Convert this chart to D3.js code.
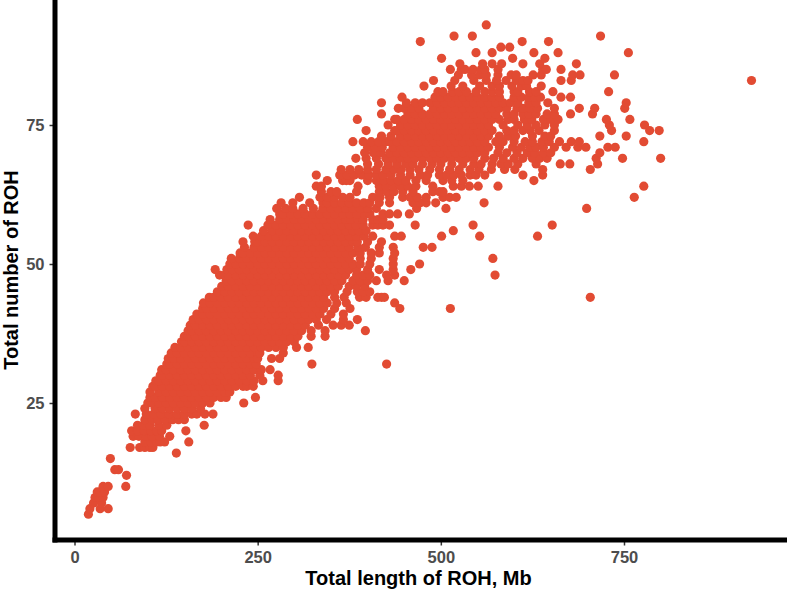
<!DOCTYPE html>
<html>
<head>
<meta charset="utf-8">
<script src="https://cdn.jsdelivr.net/npm/d3@7"></script>
<style>
  html, body { margin: 0; padding: 0; background: #fff; }
  svg { display: block; }
  text { font-family: "Liberation Sans", Arial, sans-serif; font-weight: bold; }
</style>
</head>
<body>
<div id="chart"></div>
<script>
// total length of ROH (Mb), one list per total number of ROH
const n5 = [19];
const n6 = [21,35,46];
const n7 = [26,37];
const n8 = [28,33,39];
const n9 = [31,35,41];
const n10 = [39,46,70];
const n12 = [71];
const n13 = [55,60];
const n15 = [49];
const n16 = [139];
const n17 = [76,89,96,103,107];
const n18 = [96,104,112,117,123,156];
const n19 = [80,88,98,106,116,130];
const n20 = [78,86,95,104,112,119,152];
const n21 = [86,94,103,115,126,177];
const n22 = [96,106,114,124,134,142,150];
const n23 = [83,98,108,118,129,140,150,160,167,178,189];
const n24 = [96,110,120,130,140,150,160,172];
const n25 = [100,105,115,125,135,145,155,165,175,185,231];
const n26 = [103,110,120,130,140,150,160,170,180,190,200,207,247];
const n27 = [103,115,125,135,145,155,165,175,185,195,205,212];
const n28 = [107,110,120,130,140,150,160,170,180,190,200,210,220,230,235,244];
const n29 = [111,115,125,135,145,155,165,175,185,195,205,215,225,235,245,257,278];
const n30 = [117,120,130,140,150,160,170,180,190,200,210,220,230,240,253,278];
const n31 = [119,125,135,145,155,165,175,185,195,205,215,225,235,245,255,267];
const n32 = [126,130,140,150,160,170,180,190,200,210,220,230,240,248,324,426];
const n33 = [128,135,145,155,165,175,185,195,205,215,225,235,245,250,269,280];
const n34 = [132,140,150,160,170,180,190,200,210,220,230,240,250,253,285];
const n35 = [137,145,155,165,175,185,195,205,215,225,235,245,255,265,275,285,303,319];
const n36 = [146,150,160,170,180,190,200,210,220,230,240,250,260,270,280,290,300];
const n37 = [150,155,165,175,185,195,205,215,225,235,245,255,265,275,285,295,305,323,342];
const n38 = [155,160,170,180,190,200,210,220,230,240,250,260,270,280,290,300,310,323,342,397];
const n39 = [158,165,175,185,195,205,215,225,235,245,255,265,275,285,295,305,315,333,353,364,375];
const n40 = [162,170,180,190,200,210,220,230,240,250,260,270,280,290,300,310,320,330,344,367,386];
const n41 = [167,175,185,195,205,215,225,235,245,255,265,275,285,295,305,315,325,335,350,367];
const n42 = [175,180,190,200,210,220,230,240,250,260,270,280,290,300,310,320,330,340,355,376,444,513];
const n43 = [176,185,195,205,215,225,235,245,255,265,275,285,295,305,315,325,335,345,358,371,437];
const n44 = [184,190,200,210,220,230,240,250,260,270,280,290,300,310,320,330,340,355,368,389,398,414,419,423,704];
const n45 = [195,205,215,225,235,245,255,265,275,285,295,305,315,325,335,345,355,372,386,394,403];
const n46 = [201,210,220,230,240,250,260,270,280,290,300,310,320,330,340,350,360,375,385,396];
const n47 = [207,215,225,235,245,255,265,275,285,295,305,315,325,335,345,355,365,380,390,400,412,428,450];
const n48 = [198,205,210,220,230,240,250,260,270,280,290,300,310,320,330,340,350,360,370,385,394,403,426,437,574];
const n49 = [192,208,215,225,235,245,255,265,275,285,295,305,315,325,335,345,355,365,375,385,400,416,435,459];
const n50 = [212,220,230,240,250,260,270,280,290,300,310,320,330,340,350,360,370,380,390,403,435,471];
const n51 = [214,225,235,245,255,265,275,285,295,305,315,325,335,345,355,365,375,390,405,435,571];
const n52 = [226,230,240,250,260,270,280,290,300,310,320,330,340,350,360,370,380,390,405,416,437];
const n53 = [232,245,255,265,275,285,295,305,315,325,335,345,355,365,375,387,397,416,435,476,488];
const n54 = [230,246,250,260,270,280,290,300,310,320,330,340,350,360,370,380,386,400,419];
const n55 = [244,255,265,275,285,295,305,315,325,335,345,355,365,375,385,395,407,437,446,501,553,632];
const n56 = [258,270,280,290,300,310,320,330,340,350,360,370,380,388,398,517];
const n57 = [237,264,275,285,295,305,315,325,335,345,355,365,375,384,394,407,414,421,430,465,544,652];
const n58 = [267,280,290,300,310,320,330,340,350,360,370,377,387,394,407,414,421];
const n59 = [280,285,295,305,315,325,335,345,355,366,376,386,396,403,421,430,441,457];
const n60 = [276,288,298,312,326,339,350,360,370,380,390,400,412,467,507,699];
const n61 = [282,298,321,339,345,355,365,375,385,395,403,416,430,462,472,480,493,559];
const n62 = [307,335,345,355,366,376,407,417,430,448,458,468,480,503,512,521,764];
const n63 = [337,350,358,385,416,426,436,448,462,489,498,503];
const n64 = [330,337,387,416,425,435,445,455,466,489,517,528,539,551,578,777];
const n65 = [345,366,371,376,400,412,422,432,442,452,466,480,503,515,530,627];
const n66 = [330,362,372,382,392,402,412,421,432,445,458,472,482,498,508,518,528,540,548,560,612,639];
const n67 = [364,376,388,400,412,425,436,446,458,470,485,498,512,525,540,552,569,587,601,639,704];
const n68 = [400,415,428,440,452,462,475,488,500,515,530,545,555,570,582,592,605,630,663,676,714];
const n69 = [384,398,412,425,435,445,455,465,475,485,495,505,515,525,535,545,560,572,585,600,612,625,635,645,712,748,800];
const n70 = [396,408,418,430,440,450,460,470,480,490,500,510,520,530,540,550,560,578,590,604,618,628,640,650,717];
const n71 = [400,410,420,435,445,455,465,475,485,495,505,515,525,535,545,555,565,580,598,610,622,630,640,655,671,687,698,728,738];
const n72 = [380,394,405,415,425,430,440,450,460,470,480,490,500,510,520,530,540,550,560,575,585,600,615,625,638,648,662,678,689,777];
const n73 = [419,432,445,455,465,475,485,495,505,515,525,535,545,555,565,580,592,602,625,642,650,717,753];
const n74 = [398,437,440,450,460,470,480,490,500,510,520,530,540,550,560,570,590,600,612,622,634,655,733,785,798];
const n75 = [428,445,455,465,475,485,495,505,515,525,535,545,555,565,585,605,618,630,642,655,730,778];
const n76 = [386,437,440,450,460,470,480,490,500,510,520,530,540,550,560,570,580,592,600,614,624,640,650,660,726,758];
const n77 = [419,455,465,475,485,495,505,515,525,535,545,555,565,575,590,600,612,620,630,645,655,677,707];
const n78 = [442,450,460,470,490,500,510,520,530,540,550,560,570,580,590,604,612,622,632,655,689,710,751];
const n79 = [419,453,465,475,485,495,505,515,525,535,545,555,565,575,585,595,605,620,630,646,753];
const n80 = [447,492,500,510,520,530,540,550,560,570,580,600,610,620,628,636,664,677];
const n81 = [496,503,516,525,535,548,560,570,580,600,605,621,630,653,729];
const n82 = [477,514,530,553,570,580,597,610,617,637];
const n83 = [490,519,545,562,576,589,603,612,619,664,678,924];
const n84 = [524,542,553,562,578,596,603,626,637,680,690,737];
const n85 = [513,528,533,544,555,560,578,639,644,664];
const n86 = [526,557,570,583,612,635,685];
const n87 = [501,598,642];
const n88 = [548,570,627,660,756];
const n89 = [582,594];
const n90 = [472,611,647];
const n91 = [518,543,718];
const n93 = [562];

const rohCounts = [5,6,7,8,9,10,12,13,15,16,17,18,19,20,21,22,23,24,25,26,27,28,29,30,31,32,33,34,35,36,37,38,39,40,41,42,43,44,45,46,47,48,49,50,51,52,53,54,55,56,57,58,59,60,61,62,63,64,65,66,67,68,69,70,71,72,73,74,75,76,77,78,79,80,81,82,83,84,85,86,87,88,89,90,91,93];
const rohLengths = [n5,n6,n7,n8,n9,n10,n12,n13,n15,n16,n17,n18,n19,n20,n21,n22,n23,n24,n25,n26,n27,n28,n29,n30,n31,n32,n33,n34,n35,n36,n37,n38,n39,n40,n41,n42,n43,n44,n45,n46,n47,n48,n49,n50,n51,n52,n53,n54,n55,n56,n57,n58,n59,n60,n61,n62,n63,n64,n65,n66,n67,n68,n69,n70,n71,n72,n73,n74,n75,n76,n77,n78,n79,n80,n81,n82,n83,n84,n85,n86,n87,n88,n89,n90,n91,n93];

const xTicks = [0,250,500,750];
const yTicks = [25,50,75];

const width = 787, height = 592;
const panel = {l:55, r:787, t:0, b:540};

const points = rohCounts.flatMap((c,i) => rohLengths[i].map(len => ({len:len, count:c})));

const x = d3.scaleLinear().domain([0,750]).range([74.5,624]);
const y = d3.scaleLinear().domain([25,75]).range([403,125]);

const svg = d3.select('#chart').append('svg')
	.attr('width', width)
	.attr('height', height);

svg.append('g').selectAll('circle')
	.data(points)
	.enter()
	.append('circle')
	.attr('cx', d => x(d.len))
	.attr('cy', d => y(d.count))
	.attr('r', 4.6)
	.style('fill', '#E24B33');

const xAxis = svg.append('g')
	.attr('transform', `translate(0,${panel.b})`)
	.call(d3.axisBottom(x).tickValues(xTicks).tickSize(5.5).tickSizeOuter(0).tickPadding(6));

const yAxis = svg.append('g')
	.attr('transform', `translate(${panel.l},0)`)
	.call(d3.axisLeft(y).tickValues(yTicks).tickSize(5.5).tickSizeOuter(0).tickPadding(5));

[xAxis, yAxis].forEach(a => {
	a.select('.domain').remove();
	a.selectAll('line').style('stroke', '#333').style('stroke-width', 1.5);
	a.selectAll('text').style('font-size', '16.5px').style('fill', '#4d4d4d');
});

// thick axis lines run the whole panel
svg.append('line')
	.attr('x1', panel.l).attr('x2', panel.l)
	.attr('y1', panel.t).attr('y2', panel.b + 2.5)
	.style('stroke', '#000').style('stroke-width', 5);
svg.append('line')
	.attr('x1', panel.l - 2.5).attr('x2', panel.r)
	.attr('y1', panel.b).attr('y2', panel.b)
	.style('stroke', '#000').style('stroke-width', 5);

svg.append('text')
	.attr('x', 418.5).attr('y', 585)
	.attr('text-anchor', 'middle')
	.style('font-size', '20px')
	.text('Total length of ROH, Mb');

svg.append('text')
	.attr('transform', 'translate(18,270) rotate(-90)')
	.attr('text-anchor', 'middle')
	.style('font-size', '20px')
	.text('Total number of ROH');
</script>
</body>
</html>
